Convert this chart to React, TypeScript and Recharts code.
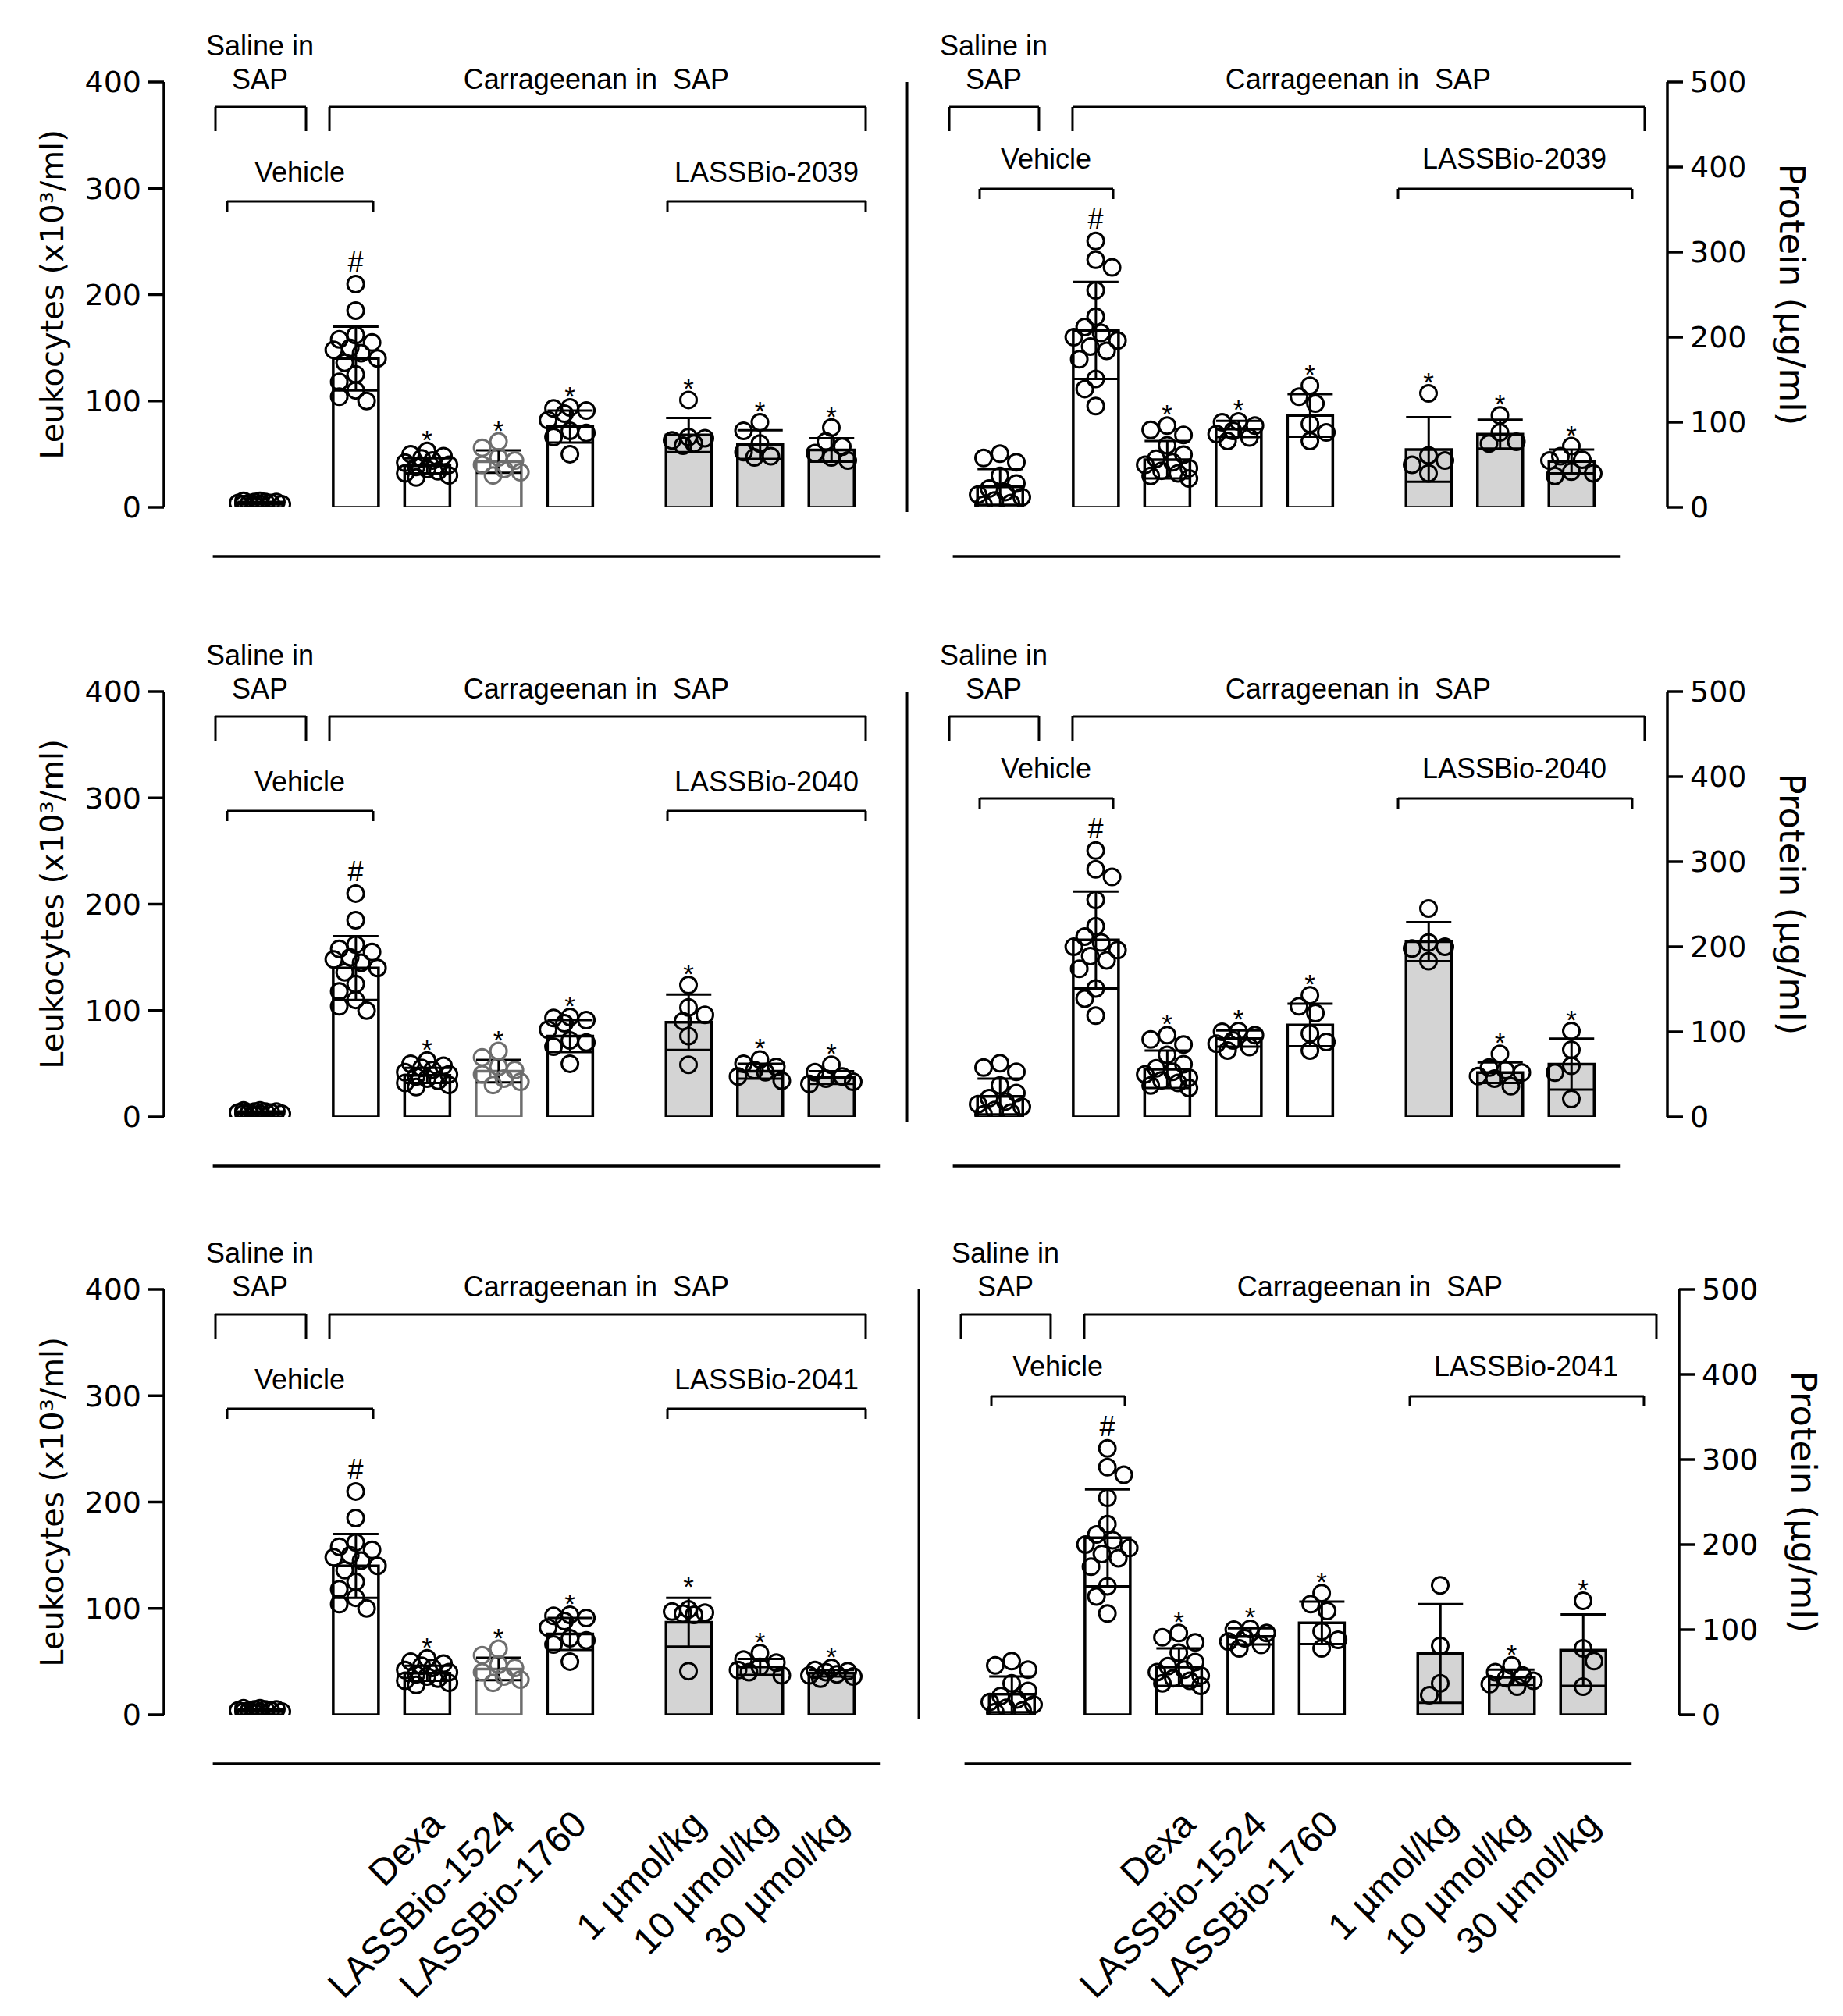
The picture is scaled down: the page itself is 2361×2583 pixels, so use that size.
import React from "react";
import { Bar, Cell, ComposedChart, ErrorBar, ReferenceDot, ReferenceLine, Scatter, XAxis, YAxis } from "recharts";

// ---------- data ----------
const groupNames = ["Saline", "Vehicle", "Dexa", "LASSBio-1524", "LASSBio-1760", "1 µmol/kg", "10 µmol/kg", "30 µmol/kg"];

// Leukocytes (x10^3/ml) - control groups, shared by the three left panels
const leukoControlMean = [4, 140, 39, 43, 76];
const leukoControlSd = [1.2, 30, 7, 10.5, 15];
const leukoControlDots = [
  [3, 5, 4, 6, 2, 4, 5, 3, 4, 6, 3, 5],
  [210, 185, 162, 158, 155, 150, 148, 145, 140, 136, 125, 118, 110, 104, 100],
  [53, 50, 48, 46, 44, 42, 40, 38, 36, 34, 32, 30, 28],
  [62, 56, 47, 44, 40, 36, 33, 30],
  [94, 93, 91, 88, 82, 72, 70, 66, 50],
];

const leuko2039Mean = [68, 59, 54];
const leuko2039Sd = [16, 13.5, 11];
const leuko2039Dots = [
  [101, 66, 65, 63, 60, 58],
  [80, 72, 60, 52, 48, 47],
  [75, 62, 57, 51, 47, 44],
];
const leuko2040Mean = [89, 43, 37];
const leuko2040Sd = [26, 7, 6];
const leuko2040Dots = [
  [124, 103, 96, 90, 76, 49],
  [54, 50, 47, 44, 42, 38, 34],
  [49, 42, 38, 36, 33, 31],
];
const leuko2041Mean = [87, 45, 39];
const leuko2041Sd = [23, 7.5, 3];
const leuko2041Dots = [
  [99, 97, 96, 95, 94, 41],
  [58, 52, 49, 45, 42, 40, 37],
  [44, 42, 41, 40, 38, 37, 36, 34],
];

// Protein (µg/ml) - control groups, shared by the three right panels
const protControlMean = [24, 208, 56, 92, 108];
const protControlSd = [21, 57, 22, 9.5, 25];
const protControlDots = [
  [63, 58, 53, 37, 28, 22, 18, 15, 12, 8, 5, 3],
  [313, 291, 282, 255, 224, 212, 205, 200, 196, 189, 184, 174, 151, 139, 119],
  [96, 91, 85, 73, 62, 57, 53, 50, 46, 43, 40, 37, 34],
  [101, 100, 96, 90, 86, 82, 78],
  [143, 130, 122, 98, 88, 78],
];

const prot2039Mean = [68, 86, 54];
const prot2039Sd = [38, 17, 14];
const prot2039Dots = [
  [134, 61, 55, 50, 40],
  [108, 88, 77, 75],
  [72, 60, 56, 55, 42, 40, 37],
];
const prot2040Mean = [206, 52, 62];
const prot2040Sd = [23, 12, 30];
const prot2040Dots = [
  [245, 205, 200, 198, 183],
  [74, 58, 55, 52, 48, 45, 36],
  [101, 79, 60, 52, 21],
];
const prot2041Mean = [72, 44, 76];
const prot2041Sd = [58, 9, 42];
const prot2041Dots = [
  [152, 81, 37, 23],
  [58, 50, 46, 43, 40, 36, 33],
  [134, 78, 63, 33],
];

// significance vs vehicle for the three doses (* shown)
const leukoSig2039 = [true, true, true];
const leukoSig2040 = [true, true, true];
const leukoSig2041 = [true, true, true];
const protSig2039 = [true, true, true];
const protSig2040 = [false, true, true];
const protSig2041 = [false, true, true];

// ---------- layout ----------
const GROUP_POS = [0, 1.34, 2.34, 3.34, 4.34, 6, 7, 8];
const SLOT = 91.5; // px per x unit
const TOP = 105;
const PLOT_H = 545;
const ROW_TOP = [0, 781, 1547];
const R = 10.5;
const SANS = "'Liberation Sans', Arial, sans-serif";
const AXIS_FONT = "'DejaVu Sans', sans-serif";
const GREY_FILL = "#d4d4d4";
const GREY_LINE = "#6e6e6e";

// header brackets / texts (x in group units, y in px below plot top)
const headLeft = { sal: [-0.623, 0.645], car: [0.973, 8.481], veh: [-0.459, 1.585], drug: [5.705, 8.481], salX: 0, carX: 4.71, vehX: 0.557, drugX: 7.093, lowText: 115, lowBr: 153 };
const headRight = { sal: [-0.71, 0.546], car: [1.016, 9.027], veh: [-0.284, 1.585], drug: [5.574, 8.852], salX: -0.087, carX: 5.016, vehX: 0.645, drugX: 7.202, lowText: 98, lowBr: 137 };

// simple beeswarm: horizontal offsets (px) so the circles don't pile up
function swarm(vals: number[], ppu: number): number[] {
  const STEP = 7, MAX_OFF = 28, MIN_GAP = 19;
  const idx = vals.map((_, i) => i).sort((a, b) => vals[b] - vals[a]);
  const cands = [0];
  for (let k = 1; k * STEP <= MAX_OFF; k++) cands.push(k * STEP, -k * STEP);
  const placed: [number, number][] = [];
  const out: number[] = new Array(vals.length).fill(0);
  idx.forEach((i, n) => {
    const y = vals[i] * ppu;
    let best = 0;
    let bestD = -1;
    for (const c0 of cands) {
      const c = n % 2 ? -c0 : c0;
      let d = Infinity;
      for (const [px, py] of placed) d = Math.min(d, Math.hypot(px - c, py - y));
      if (d >= MIN_GAP) { best = c; break; }
      if (d > bestD) { bestD = d; best = c; }
    }
    placed.push([best, y]);
    out[i] = best;
  });
  return out;
}

const nameAt = (v: number) => {
  const i = GROUP_POS.findIndex((p) => Math.abs(p - v) < 1e-6);
  return i >= 0 ? groupNames[i] : "";
};

interface PanelDef {
  kind: "leuko" | "prot";
  compound: string;
  row: number;
  mean: number[];
  sd: number[];
  dots: number[][];
  sig: boolean[];
}

const panels: PanelDef[] = [
  { kind: "leuko", compound: "LASSBio-2039", row: 0, mean: leuko2039Mean, sd: leuko2039Sd, dots: leuko2039Dots, sig: leukoSig2039 },
  { kind: "prot", compound: "LASSBio-2039", row: 0, mean: prot2039Mean, sd: prot2039Sd, dots: prot2039Dots, sig: protSig2039 },
  { kind: "leuko", compound: "LASSBio-2040", row: 1, mean: leuko2040Mean, sd: leuko2040Sd, dots: leuko2040Dots, sig: leukoSig2040 },
  { kind: "prot", compound: "LASSBio-2040", row: 1, mean: prot2040Mean, sd: prot2040Sd, dots: prot2040Dots, sig: protSig2040 },
  { kind: "leuko", compound: "LASSBio-2041", row: 2, mean: leuko2041Mean, sd: leuko2041Sd, dots: leuko2041Dots, sig: leukoSig2041 },
  { kind: "prot", compound: "LASSBio-2041", row: 2, mean: prot2041Mean, sd: prot2041Sd, dots: prot2041Dots, sig: protSig2041 },
];

function Panel({ p }: { p: PanelDef }) {
  const isL = p.kind === "leuko";
  const yMax = isL ? 400 : 500;
  const ppu = PLOT_H / yMax;
  const means = [...(isL ? leukoControlMean : protControlMean), ...p.mean];
  const sds = [...(isL ? leukoControlSd : protControlSd), ...p.sd];
  const dotSets = [...(isL ? leukoControlDots : protControlDots), ...p.dots];
  const sig = [false, false, true, true, true, ...p.sig];

  const last = p.row === 2;
  const chartLeft = isL ? 0 : 1160 + (last ? 15 : 0);
  const chartW = isL ? 1160 : 1176;
  const axisW = isL ? 210 : 200;
  const plotW = isL ? 920 : 976;
  const salineOff = isL ? 123 : 121;
  const domain = [-salineOff / SLOT, (plotW - salineOff) / SLOT];
  const xH = last ? 400 : 0;
  const h = TOP + PLOT_H + (last ? xH : 100);
  const val = (rel: number) => yMax - rel / ppu;
  const hd = isL ? headLeft : headRight;

  const bars = means.map((m, i) => ({ pos: GROUP_POS[i], mean: m, sd: sds[i] }));
  const lineCol = (i: number) => (isL && i === 3 ? GREY_LINE : "#000");

  const dots: { pos: number; v: number; c: string }[] = [];
  dotSets.forEach((set, gi) => {
    const offs = swarm(set, ppu);
    set.forEach((v, j) => dots.push({ pos: GROUP_POS[gi] + offs[j] / SLOT, v, c: lineCol(gi) }));
  });

  const marks: { pos: number; v: number; sym: string }[] = [];
  dotSets.forEach((set, gi) => {
    const top = Math.max(...set, means[gi] + sds[gi]);
    if (gi === 1) marks.push({ pos: GROUP_POS[gi], v: top, sym: "#" });
    else if (sig[gi]) marks.push({ pos: GROUP_POS[gi], v: top, sym: "*" });
  });

  const seg = (key: string, x1: number, y1: number, x2: number, y2: number, w = 3) => (
    <ReferenceLine key={key} segment={[{ x: x1, y: y1 }, { x: x2, y: y2 }]} stroke="#000" strokeWidth={w} ifOverflow="visible" />
  );
  const bracket = (key: string, [a, b]: number[], rel: number, leg: number) => [
    seg(key + "h", a, val(rel), b, val(rel)),
    seg(key + "l", a, val(rel), a, val(rel + leg)),
    seg(key + "r", b, val(rel), b, val(rel + leg)),
  ];
  const note = (key: string, x: number, rel: number, text: string) => (
    <ReferenceDot
      key={key}
      x={x}
      y={val(rel)}
      r={0}
      fill="none"
      stroke="none"
      ifOverflow="visible"
      label={{ value: text, position: "center", fill: "#000", fontSize: 36, fontFamily: SANS }}
    />
  );

  const titleY = TOP + PLOT_H / 2;
  const leftTitle = () => (
    <text x={67} y={titleY} transform={`rotate(-90 67 ${titleY})`} textAnchor="middle" dominantBaseline="central" fontSize={40} fontFamily={AXIS_FONT} fill="#000">
      Leukocytes (x10³/ml)
    </text>
  );
  const rx = plotW + 159;
  const rightTitle = () => (
    <text x={rx} y={titleY} transform={`rotate(90 ${rx} ${titleY})`} textAnchor="middle" dominantBaseline="central" fontSize={45} fontFamily={AXIS_FONT} fill="#000">
      Protein (µg/ml)
    </text>
  );

  const ticks = isL ? [0, 100, 200, 300, 400] : [0, 100, 200, 300, 400, 500];

  return (
    <div style={{ position: "absolute", left: chartLeft, top: ROW_TOP[p.row] }}>
      <ComposedChart width={chartW} height={h} data={bars} margin={{ top: TOP, right: isL ? 30 : 0, bottom: last ? 0 : 100, left: 0 }}>
        {/* axis used by the bars only, so their band is the group spacing */}
        <XAxis xAxisId="bar" type="number" dataKey="pos" domain={domain} allowDataOverflow ticks={GROUP_POS} hide height={0} />
        <XAxis
          type="number"
          dataKey="pos"
          domain={domain}
          allowDataOverflow
          hide={!last}
          height={xH}
          ticks={GROUP_POS.slice(2)}
          interval={0}
          tickFormatter={nameAt}
          axisLine={false}
          tickLine={false}
          tickSize={0}
          tickMargin={119}
          tick={{ fontSize: 48, fill: "#000", fontFamily: SANS, angle: -45, textAnchor: "end" }}
        />
        <YAxis
          type="number"
          dataKey="v"
          orientation={isL ? "left" : "right"}
          domain={[0, yMax]}
          ticks={ticks}
          interval={0}
          allowDataOverflow
          width={axisW}
          axisLine={{ stroke: "#000", strokeWidth: 3.5 }}
          tickLine={{ stroke: "#000", strokeWidth: 3.5 }}
          tickSize={20}
          tickMargin={9}
          tick={{ fontSize: 38, fill: "#000", fontFamily: AXIS_FONT }}
          label={isL ? leftTitle : rightTitle}
        />
        <Bar xAxisId="bar" dataKey="mean" barSize={58} strokeWidth={3.5} isAnimationActive={false}>
          {bars.map((b, i) => (
            <Cell key={i} fill={i >= 5 ? GREY_FILL : "#fff"} stroke={lineCol(i)} />
          ))}
          <ErrorBar dataKey="sd" width={29} strokeWidth={3} stroke="#000" direction="y" />
        </Bar>
        <Scatter
          data={dots}
          isAnimationActive={false}
          shape={(s: any) => <circle cx={s.cx} cy={s.cy} r={R} fill="none" stroke={s.payload.c} strokeWidth={3} />}
        />
        <Scatter
          data={marks}
          isAnimationActive={false}
          shape={(s: any) => (
            <text x={s.cx} y={s.payload.sym === "#" ? s.cy - 16 : s.cy - 2} textAnchor="middle" fontSize={s.payload.sym === "#" ? 36 : 35} fontFamily={SANS} fill="#000">
              {s.payload.sym}
            </text>
          )}
        />
        {note("t1", hd.salX, -47, "Saline in")}
        {note("t2", hd.salX, -4, "SAP")}
        {note("t3", hd.carX, -4, "Carrageenan in\u00A0 SAP")}
        {note("t4", hd.vehX, hd.lowText, "Vehicle")}
        {note("t5", hd.drugX, hd.lowText, p.compound)}
        {bracket("bs", hd.sal, 32, 31)}
        {bracket("bc", hd.car, 32, 31)}
        {bracket("bv", hd.veh, hd.lowBr, 13)}
        {bracket("bd", hd.drug, hd.lowBr, 13)}
        {seg("bottom", -0.66, val(608), 8.68, val(608), 3.5)}
        {!isL && seg("divider", -1.3, val(0), -1.3, val(551), 3)}
      </ComposedChart>
    </div>
  );
}

export default function App() {
  return (
    <div style={{ position: "relative", width: 2361, height: 2583, background: "#fff", overflow: "hidden" }}>
      <style>{`body{margin:0}`}</style>
      {panels.map((p, i) => (
        <Panel key={i} p={p} />
      ))}
    </div>
  );
}
